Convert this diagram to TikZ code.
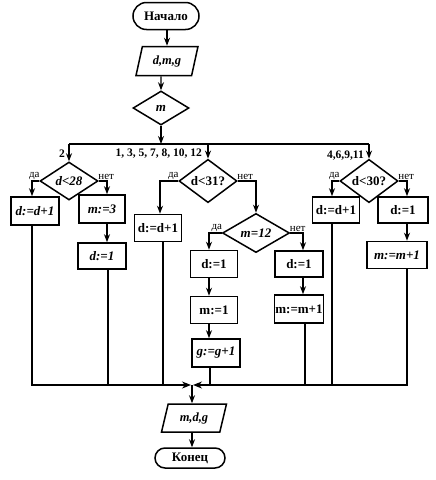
\documentclass[tikz,border=0pt]{standalone}
\usepackage{fontspec}
\setmainfont{Liberation Serif}
\usetikzlibrary{shapes.geometric,shapes.misc,arrows.meta}
\tikzset{
  box/.style={draw, line width=1.6pt, inner sep=1pt, font=\bfseries\fontsize{13}{14}\selectfont},
  boxi/.style={box, font=\bfseries\itshape\fontsize{13}{14}\selectfont},
  dia/.style={draw, diamond, line width=1.5pt, inner sep=0pt, font=\bfseries\fontsize{13}{14}\selectfont},
  diai/.style={dia, font=\bfseries\itshape\fontsize{13}{14}\selectfont},
  io/.style={draw, trapezium, trapezium left angle=72, trapezium right angle=108, trapezium stretches=true, line width=1.5pt, inner sep=0pt, font=\bfseries\itshape\fontsize{12.5}{14}\selectfont},
  term/.style={draw, rounded rectangle, line width=1.5pt, inner sep=0pt, font=\bfseries\fontsize{13}{14}\selectfont},
  lab/.style={inner sep=0.5pt, font=\fontsize{11}{12}\selectfont},
  num/.style={inner sep=0pt, font=\bfseries\fontsize{11.5}{13}\selectfont},
  ln/.style={line width=1.3pt},
  arr/.style={line width=1.3pt, -{Stealth[length=8pt,width=6pt]}},
  arrl/.style={line width=1.3pt, -{Stealth[length=9pt,width=7pt]}}
}
\begin{document}
\begin{tikzpicture}[x=1pt,y=-1pt]
\path[use as bounding box] (0,0) rectangle (436,480);

% top part
\node[term, minimum width=66pt, minimum height=27pt] (start) at (166,16) {Начало};
\node[io, minimum width=62pt, minimum height=29pt] (in) at (167,61) {d,m,g};
\node[diai, minimum width=56pt, minimum height=34pt] (m) at (161,108) {m};

\coordinate (j0) at (161,144);
\coordinate (jL) at (69,144);
\coordinate (jM) at (208,144);
\coordinate (jR) at (369,144);

% diamonds of the second level
\node[diai, minimum width=58pt, minimum height=38pt] (d28) at (69,181) {d<28};
\node[dia, minimum width=58pt, minimum height=40pt] (d31) at (208,181) {d<31?};
\node[dia, minimum width=58pt, minimum height=40pt] (d30) at (369,181) {d<30?};

% left group
\node[boxi, minimum width=48pt, minimum height=28pt] (b1) at (35,211) {d:=d+1};
\node[boxi, minimum width=46pt, minimum height=28pt] (b2) at (102,209) {m:=3};
\node[boxi, minimum width=48pt, minimum height=26pt] (b3) at (102,256) {d:=1};

% middle group
\node[box, minimum width=47pt, minimum height=27pt] (b4) at (158,228) {d:=d+1};
\node[diai, minimum width=67pt, minimum height=37pt] (m12) at (256,233) {m=12};
\node[box, minimum width=47pt, minimum height=27pt] (b5) at (214,264) {d:=1};
\node[box, minimum width=47pt, minimum height=27pt] (b6) at (214,310) {m:=1};
\node[boxi, minimum width=48pt, minimum height=28pt] (b7) at (216,353) {g:=g+1};
\node[box, minimum width=48pt, minimum height=26pt] (b8) at (299,264) {d:=1};
\node[box, minimum width=48pt, minimum height=28pt] (b9) at (299,309) {m:=m+1};

% right group
\node[box, minimum width=47pt, minimum height=26pt] (b10) at (336,210) {d:=d+1};
\node[box, minimum width=50pt, minimum height=26pt] (b11) at (403,210) {d:=1};
\node[boxi, minimum width=60pt, minimum height=27pt] (b12) at (397,255) {m:=m+1};

% bottom
\coordinate (mL) at (191,385);
\coordinate (mR) at (193,385);
\coordinate (mM) at (192,385);
\node[io, minimum width=65pt, minimum height=28pt] (out) at (194,418) {m,d,g};
\node[term, minimum width=70pt, minimum height=20pt] (end) at (190,458) {Конец};

% connectors top
\draw[arr] (start.south -| in.north) -- (in.north);
\draw[arr] ([xshift=-6pt]in.south) -- (m.north);
\draw[arr] (m.south) -- (j0);
\draw[ln] (jL) -- (jR);
\draw[arr] (jL) -- (d28.north);
\draw[arr] (jM) -- (d31.north);
\draw[arr] (jR) -- (d30.north);
\node[num, anchor=south east] (l2) at (65,158) {2};
\node[num, anchor=south east] (l1) at (202,158) {1, 3, 5, 7, 8, 10, 12};
\node[num, anchor=south east] (l4) at (364,160) {4,6,9,11};

% left group connectors
\draw[arr] (d28.west) -| ([xshift=-3pt]b1.north);
\draw[arr] (d28.east) -| ([xshift=5pt]b2.north);
\draw[arr] ([xshift=5pt]b2.south) -- ([xshift=5pt]b2.south |- b3.north);
\node[lab, anchor=south east] (ya1) at ([xshift=1pt,yshift=1pt]d28.west) {да};
\node[lab, anchor=south west] (na1) at ([xshift=-1pt,yshift=1pt]d28.east) {нет};

% middle connectors
\draw[arr] (d31.west) -| ([xshift=2pt]b4.north);
\draw[arr] (d31.east) -| (m12.north);
\node[lab, anchor=south east] (ya2) at ([xshift=1pt,yshift=1pt]d31.west) {да};
\node[lab, anchor=south west] (na2) at ([xshift=-1pt,yshift=1pt]d31.east) {нет};
\draw[arr] (m12.west) -| ([xshift=-5pt]b5.north);
\draw[arr] (m12.east) -| ([xshift=4pt]b8.north);
\node[lab, anchor=south east] (ya3) at ([xshift=1pt,yshift=1pt]m12.west) {да};
\node[lab, anchor=south west] (na3) at ([xshift=-1pt,yshift=1pt]m12.east) {нет};
\draw[arr] ([xshift=-5pt]b5.south) -- ([xshift=-5pt]b5.south |- b6.north);
\draw[arr] ([xshift=-5pt]b6.south) -- ([xshift=-5pt]b6.south |- b7.north);
\draw[arr] ([xshift=4pt]b8.south) -- ([xshift=4pt]b8.south |- b9.north);

% right connectors
\draw[arr] (d30.west) -| ([xshift=-4pt]b10.north);
\draw[arr] (d30.east) -| ([xshift=4pt]b11.north);
\node[lab, anchor=south east] (ya4) at ([xshift=1pt,yshift=1pt]d30.west) {да};
\node[lab, anchor=south west] (na4) at ([xshift=-1pt,yshift=1pt]d30.east) {нет};
\draw[arr] ([xshift=4pt]b11.south) -- ([xshift=4pt]b11.south |- b12.north);

% merge
\draw[arrl] ([xshift=-3pt]b1.south) |- (mL);
\draw[ln] ([xshift=6pt]b3.south) -- ([xshift=6pt]b3.south |- mL);
\draw[ln] ([xshift=5pt]b4.south) -- ([xshift=5pt]b4.south |- mL);
\draw[arrl] ([xshift=10pt]b12.south) |- (mR);
\draw[ln] ([xshift=-6pt]b7.south) -- ([xshift=-6pt]b7.south |- mR);
\draw[ln] ([xshift=6pt]b9.south) -- ([xshift=6pt]b9.south |- mR);
\draw[ln] ([xshift=-4pt]b10.south) -- ([xshift=-4pt]b10.south |- mR);
\draw[arr] (mM) -- (mM |- out.north);
\draw[arr] (out.south -| mM) -- (end.north -| mM);
\end{tikzpicture}
\end{document}
